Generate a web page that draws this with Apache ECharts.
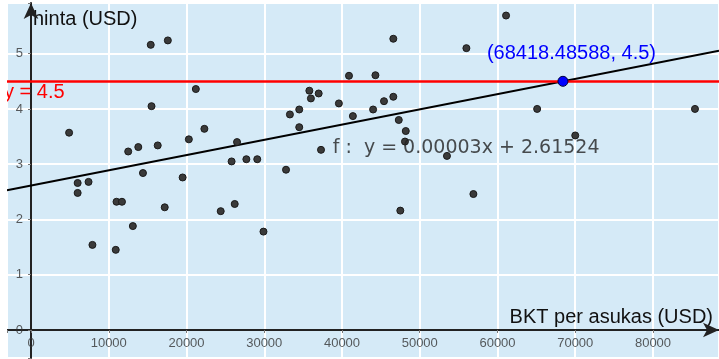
<!DOCTYPE html>
<html><head><meta charset="utf-8">
<script src="https://cdn.jsdelivr.net/npm/echarts@6/dist/echarts.min.js"></script>
<style>html,body{margin:0;padding:0;background:#fff}#c{width:719px;height:359px}</style>
</head><body><div id="c"></div>
<script>
// ---- data ----
const gdpPerCapita = [15400,17600,21200,15500,4900,22300,20300,16300,13800,12500,26500,25800,14400,19500,6000,7400,6000,11000,11700,17200,24400,26200,13100,7900,10900,27700,29100,46600,56000,40900,44300,35800,37000,36000,39600,46600,45400,44000,41400,34500,33300,34500,47300,48200,48100,37300,53500,56900,47500,32800,29900,61100,65100,85400,70000];
const price = [5.16,5.24,4.36,4.05,3.57,3.64,3.45,3.34,3.31,3.23,3.40,3.05,2.84,2.76,2.66,2.68,2.48,2.32,2.32,2.22,2.15,2.28,1.88,1.54,1.45,3.09,3.09,5.27,5.10,4.60,4.61,4.33,4.28,4.19,4.10,4.22,4.14,3.99,3.87,3.99,3.90,3.67,3.80,3.60,3.41,3.26,3.15,2.46,2.16,2.90,1.78,5.69,4.00,4.00,3.52];
const xTicks = [0, 10000, 20000, 30000, 40000, 50000, 60000, 70000, 80000];
const yTicks = [0, 1, 2, 3, 4, 5];
const intercept = 2.61524;
const targetPrice = 4.5;
const intersectionX = 68418.48588;
const slope = (targetPrice - intercept) / intersectionX;
const xRange = [-3087, 88489];
const yRange = [-0.507, 5.917];
const xName = 'BKT per asukas (USD)';
const yName = 'hinta (USD)';
const formulaText = 'f :  y = 0.00003x + 2.61524';
const formulaAnchor = [38800, 3.29];
const intersectionText = '(68418.48588, 4.5)';
const lineText = 'y = 4.5';

const points = gdpPerCapita.map((x, i) => [x, price[i]]);
const regLine = xRange.map(x => [x, slope * x + intercept]);

const chart = echarts.init(document.getElementById('c'), null, {renderer: 'canvas'});
const font = 'Liberation Sans, Arial, sans-serif';
const axisCommon = {
  axisLine: {onZero: true, lineStyle: {color: '#222', width: 2}, symbol: ['none', 'arrow'], symbolSize: [11, 16]},
  axisTick: {show: true, length: 3, lineStyle: {color: '#777'}},
  axisLabel: {show: false},
  splitLine: {show: true, lineStyle: {color: '#ffffff', width: 2}},
  nameLocation: 'end', nameMoveOverlap: false
};
chart.setOption({
  animation: false,
  backgroundColor: '#ffffff',
  textStyle: {fontFamily: font},
  grid: {left: 7, right: 0, top: 3, bottom: 1, show: true, backgroundColor: '#d5eaf7', borderWidth: 0,
         containLabel: false, outerBounds: {left: -200, right: -200, top: -200, bottom: -200}},
  graphic: [{type: 'rect', z: 100, silent: true, shape: {x: 0, y: 0, width: 7, height: 359}, style: {fill: '#ffffff'}}],
  xAxis: Object.assign({}, axisCommon, {
    type: 'value', min: xRange[0], max: xRange[1], splitNumber: 9,
    name: xName, nameGap: -6,
    nameTextStyle: {color: '#111', fontSize: 20, align: 'right', verticalAlign: 'bottom', padding: [0, 0, 2, 0], fontFamily: font}
  }),
  yAxis: Object.assign({}, axisCommon, {
    type: 'value', min: yRange[0], max: yRange[1], splitNumber: 6,
    name: yName, nameGap: -6,
    nameTextStyle: {color: '#111', fontSize: 20, align: 'left', verticalAlign: 'top', padding: [0, 0, 0, 2], fontFamily: font}
  }),
  series: [
    {
      type: 'line', data: regLine, showSymbol: false, symbol: 'none',
      lineStyle: {color: '#000', width: 2}, z: 3,
      markLine: {
        silent: true, symbol: ['none', 'none'],
        lineStyle: {color: '#ff0000', width: 2.5, type: 'solid'},
        label: {show: true, formatter: lineText, position: 'insideStartBottom', color: '#ff0000', fontSize: 20, distance: [-3, 1], fontFamily: font},
        data: [{yAxis: targetPrice}]
      }
    },
    {
      type: 'scatter', data: points, symbolSize: 7, z: 4,
      itemStyle: {color: '#3a3a3a', borderColor: '#1a1a1a', borderWidth: 1, opacity: 1}
    },
    {
      type: 'scatter', data: xTicks.map(v => [v, 0]), symbolSize: 0, z: 5, silent: true,
      label: {show: true, position: 'bottom', distance: 7, color: '#333', fontSize: 13, fontFamily: font,
              formatter: p => String(p.value[0])}
    },
    {
      type: 'scatter', data: yTicks.map(v => [0, v]), symbolSize: 0, z: 5, silent: true,
      label: {show: true, position: 'left', distance: 8, color: '#333', fontSize: 13, fontFamily: font,
              formatter: p => String(p.value[1])}
    },
    {
      type: 'scatter', data: [formulaAnchor], symbolSize: 0, z: 5, silent: true,
      label: {show: true, formatter: formulaText, position: 'inside', align: 'left', verticalAlign: 'middle', color: '#222', fontSize: 19, fontFamily: 'DejaVu Sans, sans-serif'}
    },
    {
      type: 'scatter', data: [[intersectionX, targetPrice]], symbolSize: 10, z: 6,
      itemStyle: {color: '#0000ff', borderColor: '#00003a', borderWidth: 1, opacity: 1},
      label: {show: true, formatter: intersectionText, position: 'inside', align: 'left', verticalAlign: 'middle', offset: [-76, -28], color: '#0000ff', fontSize: 20, fontFamily: font}
    }
  ]
});
</script></body></html>
